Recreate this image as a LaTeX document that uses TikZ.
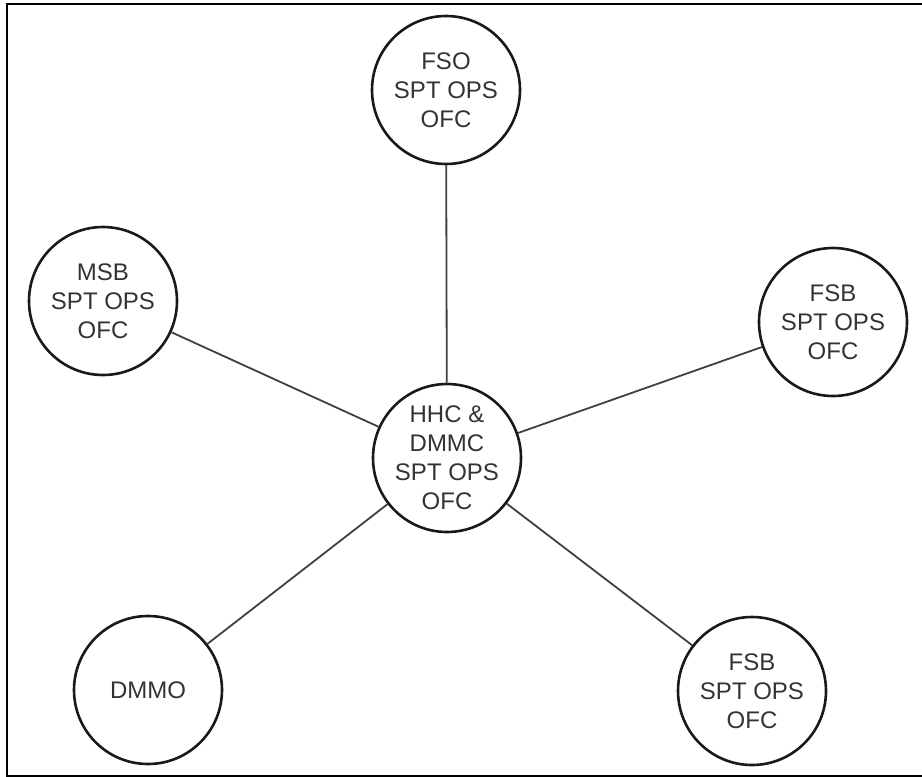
\documentclass[tikz,border=0pt]{standalone}
\usepackage{fontspec}
\setmainfont{Liberation Sans}
\begin{document}
\begin{tikzpicture}[x=1pt,y=-1pt,
  office/.style={circle,draw=black!90,line width=2.6pt,minimum size=148pt,inner sep=0pt,
    align=center,font=\fontsize{24}{29}\selectfont,text=black!80},
  link/.style={draw=black!75,line width=1.8pt}]
  \useasboundingbox (0,0) rectangle (922,777);
  % frame: top, left and bottom edges
  \draw[line width=2.2pt] (922,4) -- (7,4) -- (7,776) -- (922,776);
  \node[office] (hhc) at (447,458) {HHC \&\\DMMC\\SPT OPS\\OFC};
  \node[office] (fso) at (446,90) {FSO\\SPT OPS\\OFC};
  \node[office] (msb) at (103,301) {MSB\\SPT OPS\\OFC};
  \node[office] (fsbr) at (833,322) {FSB\\SPT OPS\\OFC};
  \node[office] (fsbb) at (752,691) {FSB\\SPT OPS\\OFC};
  \node[office] (dmmo) at (148,690) {DMMO};
  \foreach \n in {fso,msb,fsbr,fsbb,dmmo}
    \draw[link] (hhc) -- (\n);
\end{tikzpicture}
\end{document}
